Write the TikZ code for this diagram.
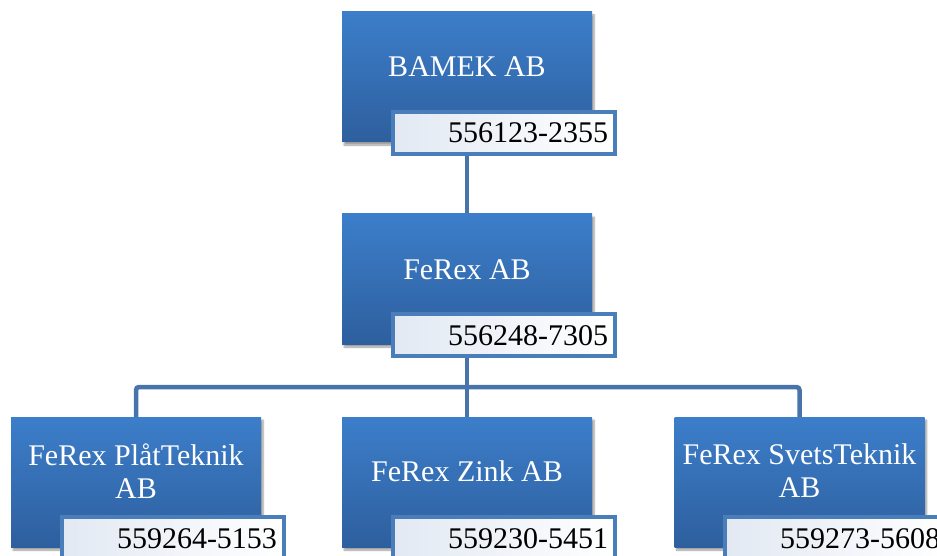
\documentclass[tikz,border=0pt]{standalone}
\usepackage{fontspec}
\setmainfont{Liberation Serif}[Ligatures=TeX]
\newfontfamily\orgfont{Liberation Serif}
\usetikzlibrary{shadows.blur,backgrounds}
\definecolor{boxtop}{RGB}{60,126,202}
\definecolor{boxbot}{RGB}{46,95,158}
\definecolor{lblborder}{RGB}{74,126,187}
\definecolor{lblleft}{RGB}{226,233,243}
\definecolor{connc}{RGB}{72,116,170}
\begin{document}
\begin{tikzpicture}[x=1pt,y=-1pt,
  orgbox/.style={rectangle, minimum width=250pt, minimum height=130pt, inner sep=0pt,
    top color=boxtop, bottom color=boxbot, draw=none,
    blur shadow={shadow xshift=2pt, shadow yshift=-3pt, shadow blur steps=6, shadow opacity=40}},
  nametext/.style={font=\orgfont\fontsize{30}{33}\selectfont, text=white, inner sep=0pt, align=center},
  idbox/.style={rectangle, draw=lblborder, line width=4pt, left color=lblleft, right color=white,
    minimum width=222pt, minimum height=42pt, text width=208pt, inner xsep=7pt, inner ysep=0pt,
    align=right, font=\orgfont\fontsize{30}{33}\selectfont, text height=20pt, text depth=0pt},
  conn/.style={draw=connc, line width=4.5pt, rounded corners=3pt}
]
\useasboundingbox (0,0) rectangle (937,556);
% top
\node[orgbox] (bamek) at (467,77) {};
\node[nametext, anchor=base] (bamekt) at (467,77) {BAMEK AB};
\node[idbox] (bamekid) at (504,133) {556123-2355};
% middle
\node[orgbox] (ferex) at (467,279) {};
\node[nametext, anchor=base] (ferext) at (467,279) {FeRex AB};
\node[idbox] (ferexid) at (504,335) {556248-7305};
% bottom
\node[orgbox] (plat) at (136,482) {};
\node[nametext] (platt) at (136,471) {FeRex PlåtTeknik\\AB};
\node[idbox] (platid) at (173,538) {559264-5153};
\node[orgbox] (zink) at (467,482) {};
\node[nametext, anchor=base] (zinkt) at (467,481) {FeRex Zink AB};
\node[idbox] (zinkid) at (504,538) {559230-5451};
\node[orgbox] (svets) at (799.5,482) {};
\node[nametext] (svetst) at (799.5,471) {FeRex SvetsTeknik\\AB};
\node[idbox] (svetsid) at (836,538) {559273-5608};
\coordinate (bus) at (467,387);
\begin{pgfonlayer}{background}
\draw[conn] (bamek.center) -- (ferex.center);
\draw[conn] (ferex.center) -- (zink.center);
\draw[conn] (plat.center) |- (bus) -| (svets.center);
\end{pgfonlayer}
\end{tikzpicture}
\end{document}
